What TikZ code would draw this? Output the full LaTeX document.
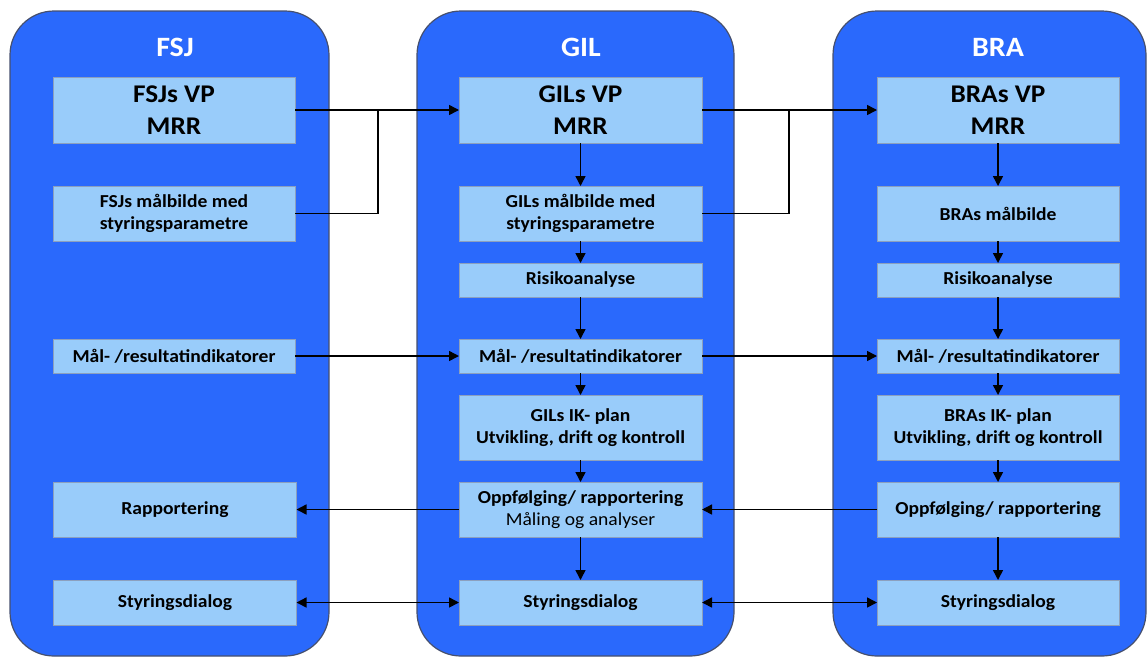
\documentclass[tikz,border=0pt]{standalone}
\usepackage{fontspec}
\setmainfont{Carlito}[FakeStretch=1.07]
\usetikzlibrary{arrows.meta,calc}

\definecolor{unitblue}{RGB}{42,105,252}
\definecolor{unitedge}{RGB}{70,80,110}
\definecolor{stepfill}{RGB}{153,204,250}
\definecolor{stepedge}{RGB}{140,160,190}

\tikzset{
  unit/.style={draw=unitedge, line width=1.2pt, fill=unitblue, rounded corners=44pt},
  unittitle/.style={text=white, font=\fontsize{28}{32}\selectfont\bfseries},
  stepbox/.style={draw=stepedge, line width=0.8pt, fill=stepfill, outer sep=0pt,
    inner sep=0pt, align=center, font=\fontsize{18.3}{22}\selectfont\bfseries},
  vpbox/.style={stepbox, minimum width=242pt, minimum height=66pt,
    font=\fontsize{25.5}{32}\selectfont\bfseries},
  link/.style={line width=1.5pt, draw=black},
  tip/.style={-{Triangle[length=10pt,width=10pt]}},
  both/.style={{Triangle[length=10pt,width=10pt]}-{Triangle[length=10pt,width=10pt]}},
}

\begin{document}
\begin{tikzpicture}[x=1pt,y=-1pt]
\useasboundingbox (0,0) rectangle (1147,657);

% three organisational units
\draw[unit] (10,11) rectangle (329,656);
\draw[unit] (417,11) rectangle (734,656);
\draw[unit] (833,11) rectangle (1146,656);

\node[unittitle] (tf) at (175,47) {FSJ};
\node[unittitle] (tg) at (581,47) {GIL};
\node[unittitle] (tb) at (998,47) {BRA};

% FSJ column
\node[vpbox] (fvp) at (174,110) {FSJs VP\\MRR};
\node[stepbox, minimum width=242pt, minimum height=55pt] (fmal) at (174,213.5) {FSJs målbilde med\\styringsparametre};
\node[stepbox, minimum width=242pt, minimum height=34pt] (find) at (174,356) {Mål- /resultatindikatorer};
\node[stepbox, minimum width=243pt, minimum height=55pt] (frap) at (175,509.5) {Rapportering};
\node[stepbox, minimum width=243pt, minimum height=45pt] (fsty) at (175,602.5) {Styringsdialog};

% GIL column
\node[vpbox, minimum width=243pt] (gvp) at (580.5,110) {GILs VP\\MRR};
\node[stepbox, minimum width=243pt, minimum height=55pt] (gmal) at (580.5,213.5) {GILs målbilde med\\styringsparametre};
\node[stepbox, minimum width=243pt, minimum height=34pt] (grisk) at (580.5,280) {Risikoanalyse};
\node[stepbox, minimum width=243pt, minimum height=34pt] (gind) at (580.5,356) {Mål- /resultatindikatorer};
\node[stepbox, minimum width=243pt, minimum height=65pt] (gik) at (580.5,427.5) {GILs IK- plan\\Utvikling, drift og kontroll};
\node[stepbox, minimum width=243pt, minimum height=55pt] (gopp) at (580.5,509.5) {Oppfølging/ rapportering\\{\mdseries Måling og analyser}};
\node[stepbox, minimum width=243pt, minimum height=45pt] (gsty) at (580.5,602.5) {Styringsdialog};

% BRA column
\node[vpbox] (bvp) at (998,110) {BRAs VP\\MRR};
\node[stepbox, minimum width=242pt, minimum height=55pt] (bmal) at (998,213.5) {BRAs målbilde};
\node[stepbox, minimum width=242pt, minimum height=34pt] (brisk) at (998,280) {Risikoanalyse};
\node[stepbox, minimum width=242pt, minimum height=34pt] (bind) at (998,356) {Mål- /resultatindikatorer};
\node[stepbox, minimum width=242pt, minimum height=65pt] (bik) at (998,427.5) {BRAs IK- plan\\Utvikling, drift og kontroll};
\node[stepbox, minimum width=242pt, minimum height=55pt] (bopp) at (998,509.5) {Oppfølging/ rapportering};
\node[stepbox, minimum width=242pt, minimum height=45pt] (bsty) at (998,602.5) {Styringsdialog};

% junctions where the goal pictures feed into the next unit's plan
\coordinate (jfg) at (378,110);
\coordinate (jgb) at (789,110);

% flows between units
\draw[link, tip] (fvp.east) -- (gvp.west);
\draw[link] (fmal.east) -| (jfg);
\draw[link, tip] (gvp.east) -- (bvp.west);
\draw[link] (gmal.east) -| (jgb);
\draw[link, tip] (find.east) -- (gind.west);
\draw[link, tip] (gind.east) -- (bind.west);
\draw[link, tip] (gopp.west) -- (frap.east);
\draw[link, tip] (bopp.west) -- (gopp.east);
\draw[link, both] (fsty.east) -- (gsty.west);
\draw[link, both] (gsty.east) -- (bsty.west);

% flows within GIL
\draw[link, tip] (gvp) -- (gmal);
\draw[link, tip] (gmal) -- (grisk);
\draw[link, tip] (grisk) -- (gind);
\draw[link, tip] (gind) -- (gik);
\draw[link, tip] (gik) -- (gopp);
\draw[link, tip] (gopp) -- (gsty);

% flows within BRA
\draw[link, tip] (bvp) -- (bmal);
\draw[link, tip] (bmal) -- (brisk);
\draw[link, tip] (brisk) -- (bind);
\draw[link, tip] (bind) -- (bik);
\draw[link, tip] (bik) -- (bopp);
\draw[link, tip] (bopp) -- (bsty);
\end{tikzpicture}
\end{document}
